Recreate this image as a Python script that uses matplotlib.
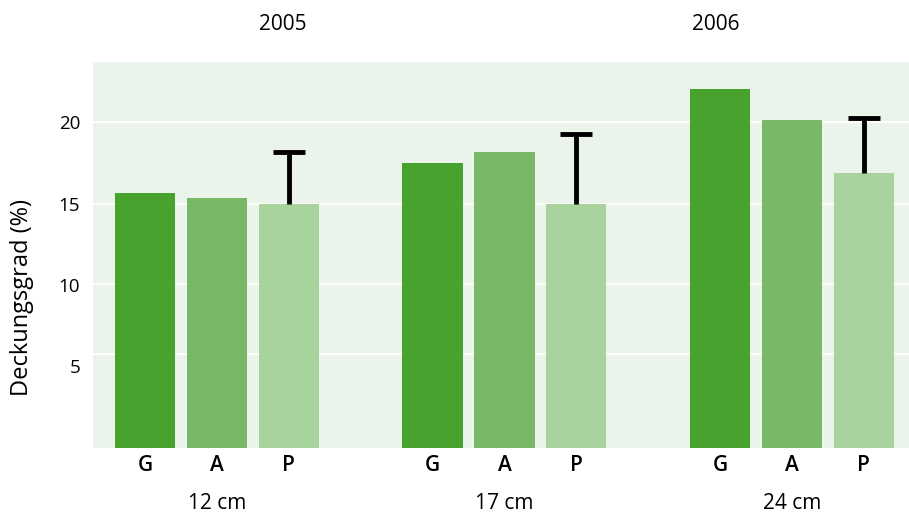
import matplotlib
matplotlib.use("Agg")
import matplotlib.pyplot as plt

plt.rcParams["font.family"] = ["Open Sans", "DejaVu Sans"]

# Deckungsgrad per treatment, three heights
groups = ["12 cm", "17 cm", "24 cm"]
treatments = ["G", "A", "P"]
values = [
    [15.65, 15.35, 15.0],
    [17.5, 18.17, 14.98],
    [22.05, 20.14, 16.88],
]
# upper error bar only on P
p_err = [3.16, 4.3, 3.4]
years = ["2005", "2006"]
year_pos = [1.92, 7.94]
yticks = [5, 10, 15, 20]
grid_levels = [5.75, 10.05, 15, 20]

colors = ["#47a22e", "#78b968", "#a8d39d"]
BG = "#ebf4ea"

fig = plt.figure(figsize=(9.09, 5.16), dpi=100)
ax = fig.add_axes([0.102, 0.132, 0.898, 0.748])
ax.set_facecolor(BG)

for lvl in grid_levels:
    ax.axhline(lvl, color="white", lw=1.3, zorder=1)

xs = []
for gi, vals in enumerate(values):
    for ti, v in enumerate(vals):
        x = gi * 4 + ti
        xs.append(x)
        ax.bar(x, v, width=0.84, color=colors[ti], zorder=2)
    # one-sided error bar: stem plus top cap
    xp = gi * 4 + 2
    top = vals[2] + p_err[gi]
    ax.vlines(xp, vals[2], top, color="black", lw=3.5, zorder=3)
    ax.plot([xp], [top], marker="_", markersize=23, mew=3.5,
            color="black", zorder=3)

ax.set_xlim(-0.73, 10.63)
ax.set_ylim(0, 23.7)
ax.set_xticks(xs)
ax.set_xticklabels(treatments * 3, fontsize=15, fontweight="semibold")
ax.set_yticks(yticks)
ax.set_yticklabels([str(t) for t in yticks], fontsize=13.5)
ax.tick_params(length=0, pad=9)
ax.tick_params(axis="x", pad=5)
for s in ax.spines.values():
    s.set_visible(False)

ax.set_ylabel("Deckungsgrad (%)", fontsize=17)
ax.yaxis.set_label_coords(-0.072, 0.39)

for gi, g in enumerate(groups):
    ax.text(gi * 4 + 1, -0.145, g, transform=ax.get_xaxis_transform(),
            ha="center", va="center", fontsize=15)
for yr, xp in zip(years, year_pos):
    ax.text(xp, 1.096, yr, transform=ax.get_xaxis_transform(),
            ha="center", va="center", fontsize=15)

fig.savefig("out.png", dpi=100)
